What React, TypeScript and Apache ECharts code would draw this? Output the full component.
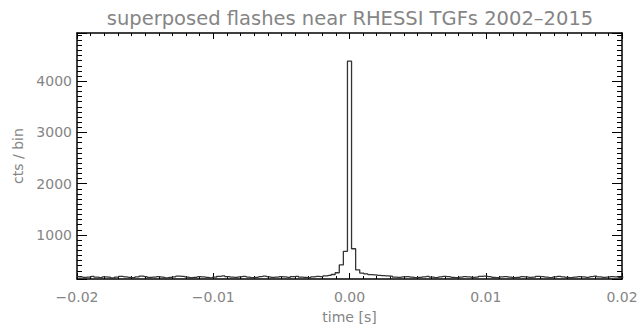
import React, { useEffect, useRef } from 'react';
import * as echarts from 'echarts';

const TITLE = 'superposed flashes near RHESSI TGFs 2002\u20132015';
const X_NAME = 'time [s]';
const Y_NAME = 'cts / bin';

// histogram: bin width and centre of the first bin
const BIN_WIDTH = 0.0003;
const FIRST_BIN_CENTER = -0.0201;

const countsBeforePeak = [
  185, 180, 172, 178, 190, 175, 168, 182, 176, 160,
  175, 190, 180, 170, 165, 180, 195, 185, 170, 178,
  188, 175, 162, 170, 182, 196, 190, 178, 166, 172,
  185, 180, 170, 160, 175, 192, 200, 185, 176, 170,
  182, 190, 178, 165, 172, 185, 195, 182, 170, 176,
  188, 180, 170, 185, 192, 178, 170, 165, 180, 190,
  185, 200, 210, 228, 262, 415, 680,
];
const peakCounts = [4390];
const countsAfterPeak = [
  730, 320, 255, 240, 225, 220, 212,
  205, 200, 195, 178, 170, 180, 188, 176, 165, 172,
  182, 190, 176, 168, 180, 192, 185, 172, 165, 178,
  188, 180, 170, 175, 190, 198, 185, 172, 168, 180,
  186, 175, 165, 172, 185, 180, 170, 178, 192, 185,
  175, 168, 180, 190, 182, 170, 165, 178, 188, 180,
  172, 185, 195, 180, 170, 176, 188, 182, 170, 178,
];

const X_MIN = -0.02;
const X_MAX = 0.02;
const X_INTERVAL = 0.01;
const Y_MIN = 140;
const Y_MAX = 4940;
const yTickLabels = [1000, 2000, 3000, 4000];

const FONT = 'DejaVu Sans';
const TEXT_COLOR = '#858585';

export default function App() {
  const ref = useRef<HTMLDivElement>(null);
  useEffect(() => {
    if (!ref.current) return;
    const chart = echarts.init(ref.current, null, { renderer: 'svg' });
    const counts = [...countsBeforePeak, ...peakCounts, ...countsAfterPeak];
    const data = counts.map((c, i) => [Number((FIRST_BIN_CENTER + i * BIN_WIDTH).toFixed(6)), c]);

    const lineStyle = { color: '#000', width: 1.5 };
    const tickStyle = { color: '#000', width: 1 };
    const xFmt = (v: number) => v.toFixed(2).replace('-', '\u2212');
    const yFmt = (v: number) => (yTickLabels.indexOf(Math.round(v)) >= 0 && Math.abs(v - Math.round(v)) < 1e-6 ? String(Math.round(v)) : '');

    const xBase = {
      type: 'value' as const,
      min: X_MIN,
      max: X_MAX,
      interval: X_INTERVAL,
      axisLine: { show: true, onZero: false, lineStyle },
      axisTick: { show: true, inside: true, length: 6, lineStyle: tickStyle },
      minorTick: { show: true, splitNumber: 10, length: 3, lineStyle: tickStyle },
      splitLine: { show: false },
      minorSplitLine: { show: false },
    };
    const yBase = {
      type: 'value' as const,
      min: Y_MIN,
      max: Y_MAX,
      splitNumber: 5,
      axisLine: { show: true, onZero: false, lineStyle },
      axisTick: { show: true, inside: true, length: 10, lineStyle: tickStyle },
      minorTick: { show: true, splitNumber: 10, length: 5, lineStyle: tickStyle },
      splitLine: { show: false },
      minorSplitLine: { show: false },
    };

    chart.setOption({
      animation: false,
      backgroundColor: '#ffffff',
      grid: { left: 77, right: 19, top: 33, bottom: 45, containLabel: false, outerBoundsMode: 'none' },
      graphic: [
        {
          type: 'text',
          x: 350,
          y: 18,
          style: {
            text: TITLE,
            fill: TEXT_COLOR,
            font: `19.5px "${FONT}"`,
            textAlign: 'center',
            textVerticalAlign: 'middle',
          },
        },
      ],
      xAxis: [
        {
          ...xBase,
          position: 'bottom',
          axisLabel: {
            show: true,
            color: TEXT_COLOR,
            fontFamily: FONT,
            fontSize: 14,
            margin: 11,
            showMinLabel: true,
            showMaxLabel: true,
            formatter: xFmt,
          },
          name: X_NAME,
          nameLocation: 'middle',
          nameGap: 31,
          nameTextStyle: { color: TEXT_COLOR, fontFamily: FONT, fontSize: 14 },
        },
        { ...xBase, position: 'top', axisLabel: { show: false } },
      ],
      yAxis: [
        {
          ...yBase,
          position: 'left',
          axisLabel: {
            show: true,
            color: TEXT_COLOR,
            fontFamily: FONT,
            fontSize: 14,
            margin: 5,
            showMinLabel: false,
            showMaxLabel: false,
            formatter: yFmt,
          },
          name: Y_NAME,
          nameLocation: 'middle',
          nameGap: 50,
          nameRotate: 90,
          nameTextStyle: { color: TEXT_COLOR, fontFamily: FONT, fontSize: 14 },
        },
        { ...yBase, position: 'right', axisLabel: { show: false } },
      ],
      series: [
        {
          type: 'line',
          xAxisIndex: 0,
          yAxisIndex: 0,
          data,
          step: 'middle',
          symbol: 'none',
          showSymbol: false,
          clip: true,
          silent: true,
          lineStyle: { color: '#333333', width: 1.3 },
        },
      ],
    });
    return () => chart.dispose();
  }, []);
  return (
    <div
      ref={ref}
      style={{ position: 'fixed', left: 0, top: 0, width: 641, height: 324, background: '#fff' }}
    />
  );
}
